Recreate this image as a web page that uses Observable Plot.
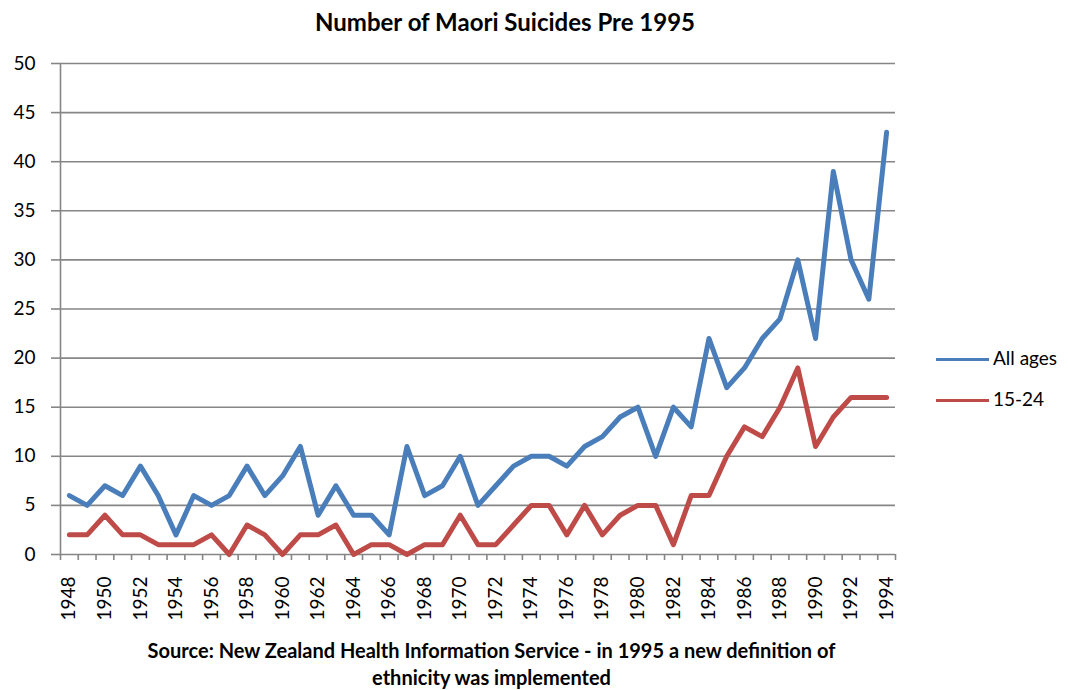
<!DOCTYPE html>
<html><head><meta charset="utf-8">
<script src="https://cdn.jsdelivr.net/npm/d3@7"></script>
<script src="https://cdn.jsdelivr.net/npm/@observablehq/plot@0.6"></script>
<style>
body{margin:0;background:#fff;}
#wrap{position:relative;width:1068px;height:690px;font-family:Lato,"Open Sans",sans-serif;color:#000;}
#chart{position:absolute;left:0;top:0;}
#title{position:absolute;top:7px;left:0;width:1010px;text-align:center;font-weight:bold;font-size:24px;}
#caption{position:absolute;top:637px;left:0;width:983px;text-align:center;font-weight:bold;font-size:20px;line-height:27px;}
.leg{position:absolute;left:936px;font-size:19px;}
.leg span.sw{position:absolute;left:0;top:10px;width:53px;height:2.5px;}
.leg span.lb{position:absolute;left:57px;top:-2px;white-space:nowrap;}
</style></head>
<body>
<div id="wrap">
<div id="chart"></div>
<div id="title">Number of Maori Suicides Pre 1995</div>
<div class="leg" style="top:348px"><span class="sw" style="background:#4a7ebb"></span><span class="lb">All ages</span></div>
<div class="leg" style="top:389px"><span class="sw" style="background:#be4b48"></span><span class="lb">15-24</span></div>
<div id="caption">Source: New Zealand Health Information Service - in 1995 a new definition of<br>ethnicity was implemented</div>
</div>
<script>
const years = [1948,1949,1950,1951,1952,1953,1954,1955,1956,1957,1958,1959,1960,1961,1962,1963,1964,1965,1966,1967,1968,1969,1970,1971,1972,1973,1974,1975,1976,1977,1978,1979,1980,1981,1982,1983,1984,1985,1986,1987,1988,1989,1990,1991,1992,1993,1994];
const allAges = [6,5,7,6,9,6,2,6,5,6,9,6,8,11,4,7,4,4,2,11,6,7,10,5,7,9,10,10,9,11,12,14,15,10,15,13,22,17,19,22,24,30,22,39,30,26,43];
const age15to24 = [2,2,4,2,2,1,1,1,2,0,3,2,0,2,2,3,0,1,1,0,1,1,4,1,1,3,5,5,2,5,2,4,5,5,1,6,6,10,13,12,15,19,11,14,16,16,16];
const yTicks = [0,5,10,15,20,25,30,35,40,45,50];
const xLabels = [1948,1950,1952,1954,1956,1958,1960,1962,1964,1966,1968,1970,1972,1974,1976,1978,1980,1982,1984,1986,1988,1990,1992,1994];
const seriesNames = ["All ages","15-24"];
const seriesColors = ["#4a7ebb","#be4b48"];

const data = years.map((yr,i)=>({year:yr, all:allAges[i], youth:age15to24[i]}));
const boundaries = [...years.map(y=>y-0.5), years[years.length-1]+0.5];
const grey = "#868686";

const chart = Plot.plot({
  width:1068, height:690,
  marginTop:63, marginBottom:136, marginLeft:60, marginRight:173,
  x:{type:"linear", domain:[years[0]-0.5, years[years.length-1]+0.5]},
  y:{domain:[0,50]},
  style:{fontFamily:'Lato,"Open Sans",sans-serif', fontSize:"19px", color:"#000", background:"transparent"},
  marks:[
    Plot.gridY(yTicks,{stroke:grey, strokeOpacity:1, strokeWidth:1.6}),
    Plot.axisY(yTicks,{tickSize:9, tickPadding:16, stroke:grey, strokeWidth:1.6, fontSize:19, fill:"#000", label:null}),
    Plot.ruleX([years[0]-0.5],{stroke:grey, strokeWidth:1.6}),
    Plot.axisX(boundaries,{tickSize:6, tickFormat:()=>"", stroke:grey, strokeWidth:1.6, label:null}),
    Plot.text(xLabels,{x:d=>d, y:0, text:d=>String(d), rotate:-90, textAnchor:"end", dy:22, lineAnchor:"middle", fontSize:19, fill:"#000"}),
    Plot.lineY(data,{x:"year", y:"all", stroke:seriesColors[0], strokeWidth:5, strokeLinejoin:"round", strokeLinecap:"round"}),
    Plot.lineY(data,{x:"year", y:"youth", stroke:seriesColors[1], strokeWidth:5, strokeLinejoin:"round", strokeLinecap:"round"})
  ]
});
document.getElementById("chart").appendChild(chart);
</script>
</body></html>
